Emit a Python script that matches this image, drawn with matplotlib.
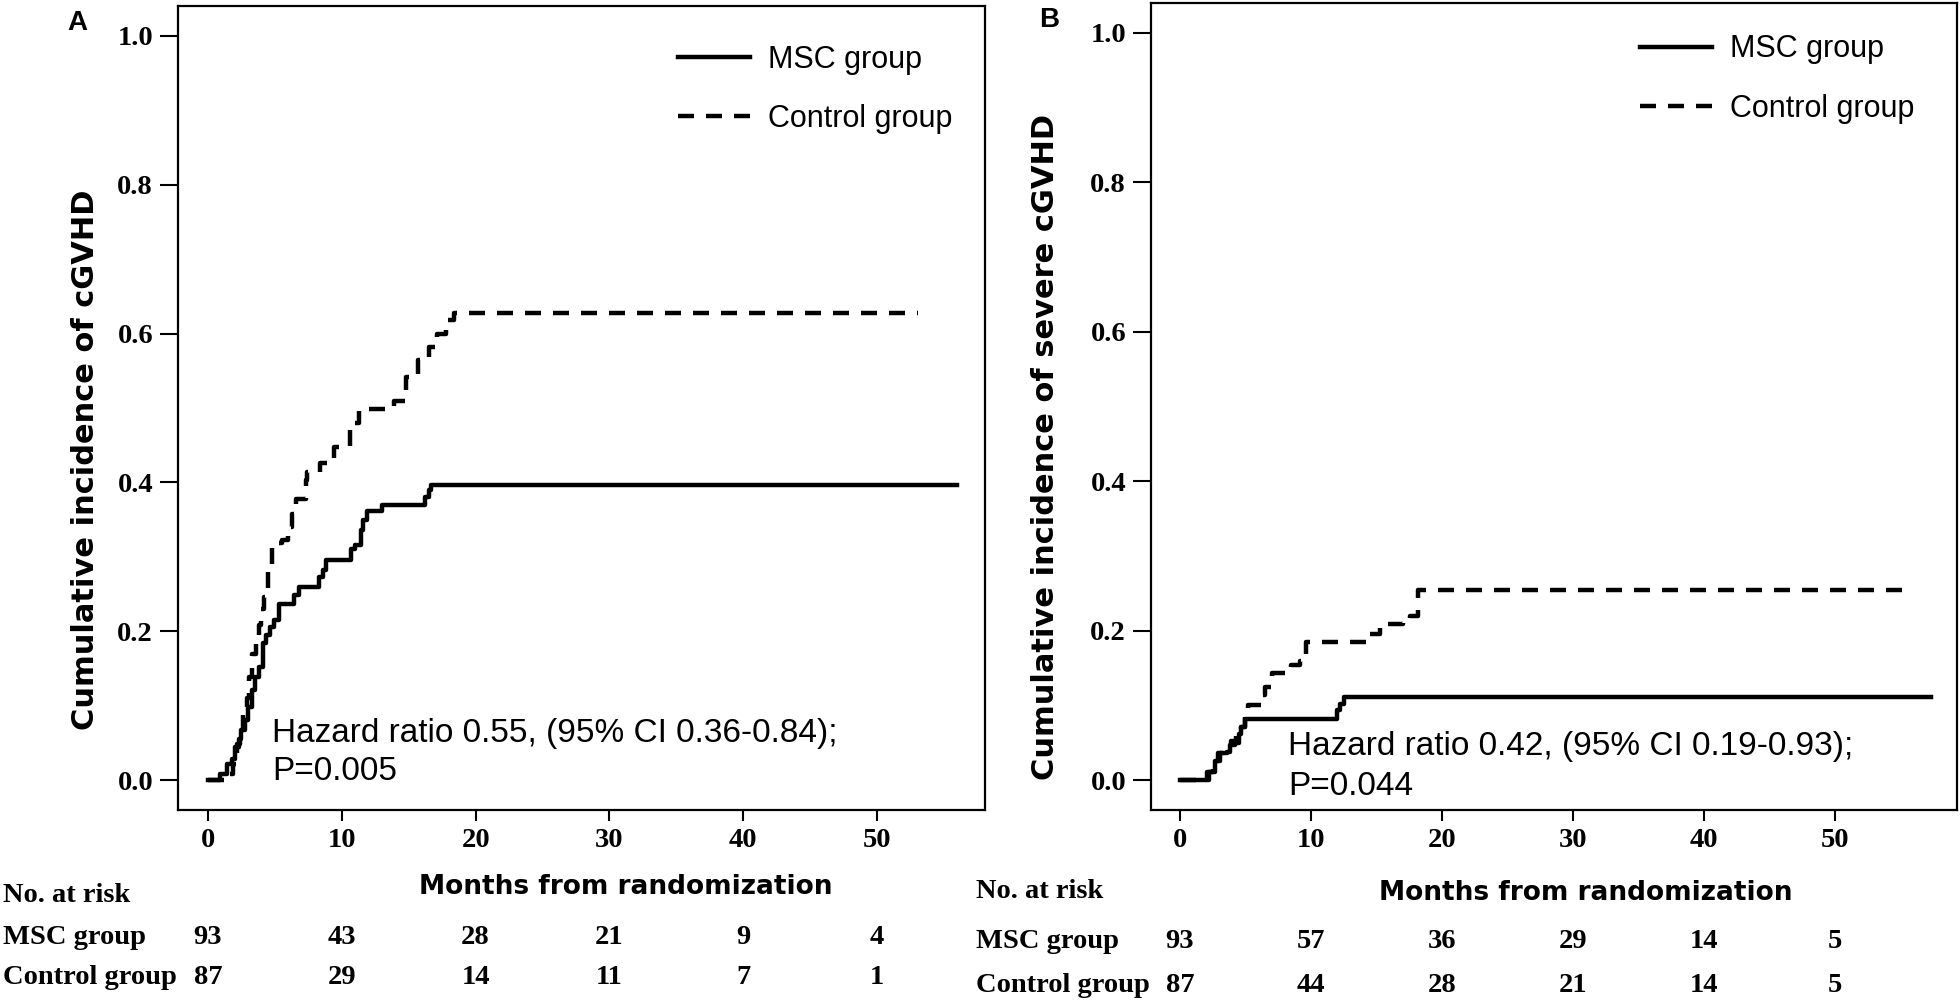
import matplotlib
matplotlib.use("Agg")
import matplotlib.pyplot as plt
from matplotlib.transforms import blended_transform_factory

# Panel A: cumulative incidence of cGVHD (step curves)
a_msc_t = [0, 0.9, 1.4, 1.8, 2.0, 2.3, 2.5, 2.8, 3.0, 3.3, 3.5, 3.8, 4.1, 4.3, 4.6, 4.9,
           5.3, 6.4, 6.8, 8.3, 8.6, 8.8, 10.7, 11.0, 11.4, 11.6, 11.9, 13.0, 16.2, 16.5, 16.7, 56.0]
a_msc_y = [0, .009, .022, .029, .045, .056, .067, .081, .099, .121, .139, .152, .184, .195, .206, .215,
           .237, .249, .26, .273, .282, .296, .311, .316, .336, .349, .361, .37, .381, .39, .396, .396]
a_ctl_t = [0, 1.3, 1.9, 2.2, 2.4, 2.6, 2.9, 3.1, 3.3, 3.6, 3.8, 4.0, 4.2, 4.5, 4.8, 5.5, 6.0, 6.3,
           6.6, 7.3, 7.4, 8.4, 9.0, 9.4, 10.6, 11.0, 11.3, 13.9, 14.8, 15.7, 16.5, 17.1, 17.8, 18.4, 53.1]
a_ctl_y = [0, .009, .022, .049, .067, .094, .11, .139, .17, .19, .208, .23, .246, .282, .318, .323, .34, .358,
           .378, .403, .414, .426, .43, .448, .47, .48, .498, .51, .541, .564, .582, .60, .618, .627, .627]

# Panel B: cumulative incidence of severe cGVHD
b_msc_t = [0, 2.2, 2.7, 3.1, 3.6, 3.8, 4.2, 4.5, 4.7, 5.0, 12.0, 12.2, 12.5, 57.3]
b_msc_y = [0, .011, .025, .036, .038, .047, .049, .062, .071, .082, .094, .102, .111, .111]
b_ctl_t = [0, 2.1, 2.5, 2.9, 3.3, 3.9, 4.3, 4.7, 5.0, 5.2, 6.2, 6.5, 7.0, 8.5, 9.2, 9.6,
           14.2, 15.3, 17.0, 17.6, 18.2, 55.3]
b_ctl_y = [0, .011, .025, .036, .04, .053, .06, .071, .085, .1, .114, .125, .143, .154, .16, .185,
           .196, .209, .214, .22, .254, .254]

# number at risk table
risk_months = [0, 10, 20, 30, 40, 50]
a_risk_msc = [93, 43, 28, 21, 9, 4]
a_risk_ctl = [87, 29, 14, 11, 7, 1]
b_risk_msc = [93, 57, 36, 29, 14, 5]
b_risk_ctl = [87, 44, 28, 21, 14, 5]

W, H = 1960, 1006
fig = plt.figure(figsize=(W / 100, H / 100), dpi=100)

SERIF = "Liberation Serif"
SANS = "Liberation Sans"


def px(x, y):
    # pixel position -> figure fraction
    return x / W, 1 - y / H


def draw_panel(rect, letter, letter_xy, msc, ctl, xlim, ylabel, ylab_xy,
               hr_lines, hr_xy, leg_anchor, xlab_xy, risk_msc, risk_ctl, rows):
    ax = fig.add_axes(rect)
    ax.step(msc[0], msc[1], where="post", color="black", lw=3.2, label="MSC group")
    ax.step(ctl[0], ctl[1], where="post", color="black", lw=3.2, dashes=(3.6, 2.7),
            label="Control group")
    ax.set_xlim(*xlim)
    ax.set_ylim(-0.04, 1.04)
    ax.set_xticks(risk_months)
    ax.set_yticks([0, 0.2, 0.4, 0.6, 0.8, 1.0])
    ax.set_yticklabels(["0.0", "0.2", "0.4", "0.6", "0.8", "1.0"])
    ax.tick_params(axis="y", direction="out", length=13, width=1.5, pad=5, labelsize=20.5)
    ax.tick_params(axis="x", direction="out", length=8, width=1.5, pad=5, labelsize=20.5)
    for lbl in ax.get_xticklabels() + ax.get_yticklabels():
        lbl.set_fontfamily(SERIF)
        lbl.set_fontweight("bold")
    for s in ax.spines.values():
        s.set_linewidth(1.6)

    ax.set_ylabel(ylabel, fontsize=22, fontweight="bold", family="DejaVu Sans")
    ax.yaxis.set_label_coords(*ylab_xy)
    ax.set_xlabel("Months from randomization", fontsize=19, fontweight="bold",
                  family="DejaVu Sans", va="top")
    ax.xaxis.set_label_coords(*xlab_xy)

    ax.text(hr_xy[0], hr_xy[1], hr_lines[0], transform=ax.transAxes, fontsize=24,
            family=SANS, va="baseline")
    ax.text(hr_xy[0], hr_xy[2], hr_lines[1], transform=ax.transAxes, fontsize=24,
            family=SANS, va="baseline")

    ax.legend(loc="upper left", bbox_to_anchor=leg_anchor, frameon=False,
              borderaxespad=0, borderpad=0, handlelength=2.35, handletextpad=0.6,
              labelspacing=0.95, prop={"family": SANS, "size": 22})

    fig.text(*px(*letter_xy), letter, fontsize=20, fontweight="bold", family=SANS,
             ha="center", va="center")

    # number at risk table
    x0, y_head, y_msc, y_ctl = rows
    fs = 20.5
    fig.text(*px(x0, y_head), "No. at risk", family=SERIF, fontweight="bold",
             fontsize=fs, va="center")
    fig.text(*px(x0, y_msc), "MSC group", family=SERIF, fontweight="bold",
             fontsize=fs, va="center")
    fig.text(*px(x0, y_ctl), "Control group", family=SERIF, fontweight="bold",
             fontsize=fs, va="center")
    tr = blended_transform_factory(ax.transData, fig.transFigure)
    for m, a, b in zip(risk_months, risk_msc, risk_ctl):
        fig.text(m, 1 - y_msc / H, str(a), transform=tr, family=SERIF, fontweight="bold",
                 fontsize=fs, ha="center", va="center")
        fig.text(m, 1 - y_ctl / H, str(b), transform=tr, family=SERIF, fontweight="bold",
                 fontsize=fs, ha="center", va="center")
    return ax


draw_panel([178 / W, 196 / H, 807 / W, 804 / H], "A", (77, 23),
           (a_msc_t, a_msc_y), (a_ctl_t, a_ctl_y), (-2.24, 58.07),
           "Cumulative incidence of cGVHD", (-0.097, 0.436),
           ["Hazard ratio 0.55, (95% CI 0.36-0.84);", "P=0.005"], (0.1165, 0.0846, 0.0373),
           (0.62, 0.952), (0.555, -0.08),
           a_risk_msc, a_risk_ctl, (3, 895, 937, 977))

draw_panel([1151 / W, 196 / H, 806 / W, 807 / H], "B", (1049, 20),
           (b_msc_t, b_msc_y), (b_ctl_t, b_ctl_y), (-2.2, 59.3),
           "Cumulative incidence of severe cGVHD", (-0.113, 0.45),
           ["Hazard ratio 0.42, (95% CI 0.19-0.93);", "P=0.044"], (0.170, 0.068, 0.0186),
           (0.607, 0.961), (0.54, -0.087),
           b_risk_msc, b_risk_ctl, (976, 892, 941, 985))

fig.savefig("out.png", dpi=100)
